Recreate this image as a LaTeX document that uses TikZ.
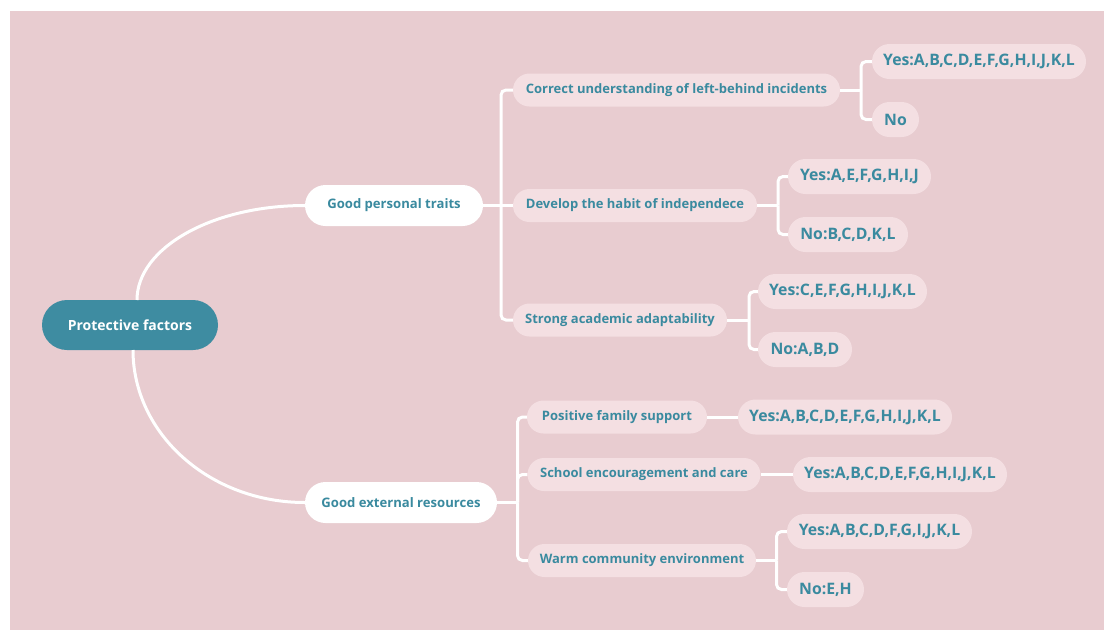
\documentclass[tikz,border=0pt]{standalone}
\usepackage{fontspec}
\setmainfont{Open Sans}
\usetikzlibrary{calc}
\definecolor{bgpink}{HTML}{E8CCD0}
\definecolor{lightpill}{HTML}{F4DFE2}
\definecolor{tealtext}{HTML}{3A8A9F}
\definecolor{tealfill}{HTML}{3E8CA1}
\tikzset{
  pill/.style={rectangle, inner sep=0pt, font=\bfseries, text=tealtext},
  rootbox/.style={pill, fill=tealfill, text=white, minimum height=50pt, rounded corners=25pt, font=\bfseries\fontsize{14}{16}\selectfont},
  mainbox/.style={pill, fill=white, minimum height=41pt, rounded corners=20.5pt, font=\bfseries\fontsize{13.1}{15}\selectfont},
  subbox/.style={pill, fill=lightpill, minimum height=33pt, rounded corners=16.5pt, font=\bfseries\fontsize{13}{15}\selectfont},
  leafbox/.style={pill, fill=lightpill, minimum height=35pt, rounded corners=17.5pt, font=\bfseries\fontsize{15.8}{18}\selectfont},
  conn/.style={draw=white, line width=3pt},
  elbow/.style={conn, rounded corners=5pt},
}
\begin{document}
\begin{tikzpicture}[x=1pt, y=-1pt]
\useasboundingbox (0,0) rectangle (1104,630);
\fill[bgpink] (10,11) rectangle (1104,630);

% root and main branches
\node[rootbox, minimum width=176pt] (root) at (130,325) {Protective factors};
\node[mainbox, minimum width=178pt] (gpt) at (394,205.5) {Good personal traits};
\node[mainbox, minimum width=192pt] (ger) at (401,502.5) {Good external resources};

% personal traits sub-branches
\node[subbox, minimum width=327pt] (c1) at (676.5,90) {Correct understanding of left-behind incidents};
\node[subbox, minimum width=244pt] (c2) at (635,205.5) {Develop the habit of independece};
\node[subbox, minimum width=214pt] (c3) at (620,320) {Strong academic adaptability};

\node[leafbox, minimum width=214pt] (y1) at (979,61.5) {Yes:A,B,C,D,E,F,G,H,I,J,K,L};
\node[leafbox, minimum width=47pt] (n1) at (895.5,119.5) {No};
\node[leafbox, minimum width=143pt] (y2) at (859.5,176.5) {Yes:A,E,F,G,H,I,J};
\node[leafbox, minimum width=120pt] (n2) at (848,234.5) {No:B,C,D,K,L};
\node[leafbox, minimum width=169pt] (y3) at (842.5,291.5) {Yes:C,E,F,G,H,I,J,K,L};
\node[leafbox, minimum width=94pt] (n3) at (805,349.5) {No:A,B,D};

% external resources sub-branches
\node[subbox, minimum width=180pt] (e1) at (617,417) {Positive family support};
\node[subbox, minimum width=233pt] (e2) at (644,474.5) {School encouragement and care};
\node[subbox, minimum width=228pt] (e3) at (642,560.5) {Warm community environment};

\node[leafbox, minimum width=214pt] (ey1) at (845,417) {Yes:A,B,C,D,E,F,G,H,I,J,K,L};
\node[leafbox, minimum width=214pt] (ey2) at (900,474.5) {Yes:A,B,C,D,E,F,G,H,I,J,K,L};
\node[leafbox, minimum width=185pt] (ey3) at (879.5,531.5) {Yes:A,B,C,D,F,G,I,J,K,L};
\node[leafbox, minimum width=77pt] (en3) at (825.5,589.5) {No:E,H};

% curves from root
\coordinate (rt) at (137,300);
\coordinate (rb) at (133,350);
\draw[conn] (rt) .. controls (137,248) and (212,205.5) .. (gpt.west);
\draw[conn] (rb) .. controls (133,434) and (210,502.5) .. (ger.west);

% personal traits connectors
\coordinate (bp) at (501,205.5);
\draw[conn] (gpt.east) -- (bp);
\draw[elbow] (bp) |- (c1.west);
\draw[conn] (bp) -- (c2.west);
\draw[elbow] (bp) |- (c3.west);

\coordinate (b1) at (861,90);
\draw[conn] (c1.east) -- (b1);
\draw[elbow] (b1) |- (y1.west);
\draw[elbow] (b1) |- (n1.west);

\coordinate (b2) at (778,205.5);
\draw[conn] (c2.east) -- (b2);
\draw[elbow] (b2) |- (y2.west);
\draw[elbow] (b2) |- (n2.west);

\coordinate (b3) at (749,320);
\draw[conn] (c3.east) -- (b3);
\draw[elbow] (b3) |- (y3.west);
\draw[elbow] (b3) |- (n3.west);

% external resources connectors
\coordinate (be) at (517.5,502.5);
\draw[conn] (ger.east) -- (be);
\draw[elbow] (be) |- (e1.west);
\draw[elbow] (be) |- (e2.west);
\draw[elbow] (be) |- (e3.west);

\draw[conn] (e1.east) -- (ey1.west);
\draw[conn] (e2.east) -- (ey2.west);

\coordinate (b6) at (776.5,560.5);
\draw[conn] (e3.east) -- (b6);
\draw[elbow] (b6) |- (ey3.west);
\draw[elbow] (b6) |- (en3.west);
\end{tikzpicture}
\end{document}
